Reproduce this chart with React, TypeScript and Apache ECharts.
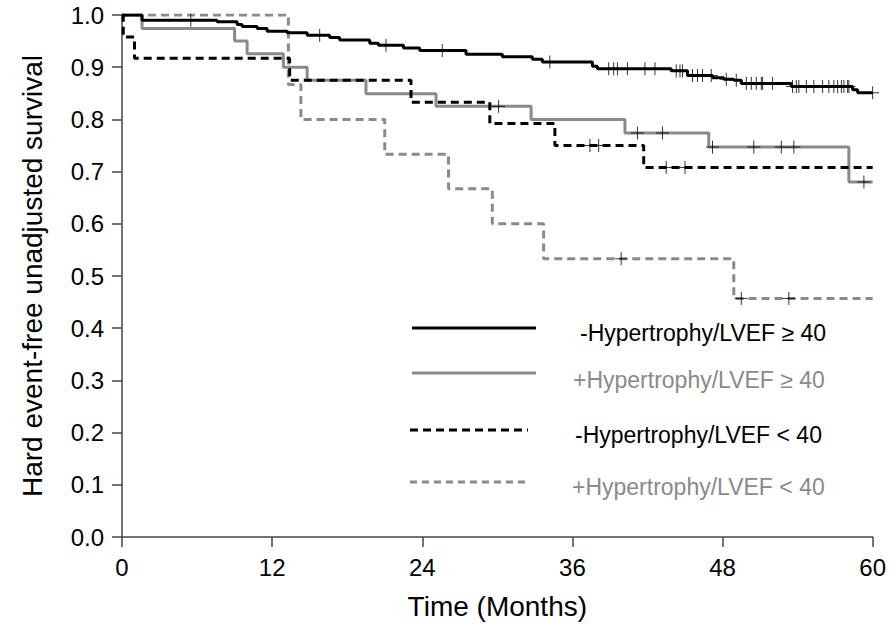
import React, { useEffect, useRef } from "react";
import * as echarts from "echarts";

// -Hypertrophy / LVEF >= 40 (black solid)
const aTimes = [0, 1.6, 7.6, 9.2, 9.6, 10.8, 11.6, 13.2, 14.8, 16.6, 17.4, 19.8, 20.5, 22.5, 23.8, 27.5, 30.4, 32.8, 33.6, 37.6, 38.0, 43.9, 45.2, 47.2, 48.1, 48.9, 49.5, 53.5, 58.4, 58.8, 60];
const aSurv = [1.0, 0.99, 0.987, 0.982, 0.978, 0.974, 0.969, 0.966, 0.961, 0.957, 0.952, 0.946, 0.942, 0.937, 0.932, 0.925, 0.92, 0.915, 0.91, 0.902, 0.897, 0.893, 0.884, 0.88, 0.877, 0.875, 0.869, 0.863, 0.857, 0.851, 0.851];
const aCensor = [5.5, 15.8, 21.1, 25.6, 34.2, 38.9, 39.3, 39.6, 40.4, 41.8, 42.6, 44.3, 44.6, 44.8, 45.6, 46.0, 46.4, 47.1, 48.3, 49.1, 49.9, 50.3, 50.7, 51.1, 51.2, 52.0, 53.6, 53.9, 54.1, 54.7, 55.3, 56.0, 56.5, 56.9, 57.2, 57.5, 57.7, 58.0, 58.1, 60.0];

// +Hypertrophy / LVEF >= 40 (gray solid)
const bTimes = [0, 1.6, 9.0, 10.0, 12.9, 14.8, 19.5, 25.1, 32.7, 40.2, 46.9, 58.1, 60];
const bSurv = [1.0, 0.974, 0.95, 0.926, 0.9, 0.875, 0.849, 0.825, 0.8, 0.774, 0.747, 0.68, 0.68];
const bCensor = [30.1, 41.2, 43.2, 47.2, 50.5, 52.7, 53.7, 59.3];

// -Hypertrophy / LVEF < 40 (black dashed)
const cTimes = [0, 0.1, 1.0, 13.4, 23.1, 29.4, 34.6, 41.7, 60];
const cSurv = [1.0, 0.958, 0.917, 0.875, 0.833, 0.792, 0.75, 0.708, 0.708];
const cCensor = [37.4, 38.1, 43.5, 45.0];

// +Hypertrophy / LVEF < 40 (gray dashed)
const dTimes = [0, 13.3, 14.3, 21.0, 26.1, 29.6, 33.7, 48.9, 60];
const dSurv = [1.0, 0.867, 0.8, 0.733, 0.667, 0.6, 0.533, 0.457, 0.457];
const dCensor = [39.9, 49.5, 53.3];

const legendNames = [
  "-Hypertrophy/LVEF \u2265 40",
  "+Hypertrophy/LVEF \u2265 40",
  "-Hypertrophy/LVEF < 40",
  "+Hypertrophy/LVEF < 40",
];

const xTicks = [0, 12, 24, 36, 48, 60];

const BLACK = "#000000";
const GRAY = "#8a8a8a";
const FONT = "Liberation Sans, Arial, sans-serif";
const NARROW = "'Liberation Sans Narrow', 'Arial Narrow', 'Liberation Sans', sans-serif";

function survAt(times: number[], surv: number[], t: number): number {
  let v = surv[0];
  for (let i = 0; i < times.length; i++) {
    if (times[i] <= t) v = surv[i];
  }
  return v;
}

function pairs(times: number[], surv: number[]) {
  return times.map((t, i) => [t, surv[i]]);
}

function censorPts(times: number[], surv: number[], cens: number[]) {
  return cens.map((t) => [t, survAt(times, surv, t)]);
}

const CROSS = "path://M6,0L6,12M0,6L12,6";

export default function App() {
  const ref = useRef<HTMLDivElement>(null);
  useEffect(() => {
    document.body.style.margin = "0";
    const chart = echarts.init(ref.current!, null, { renderer: "svg" });
    const lineSeries = (name: string, data: number[][], color: string, dashed: boolean) => ({
      type: "line",
      name,
      step: "end",
      data,
      symbol: "none",
      lineStyle: { color, width: 3, type: dashed ? [8, 5] : "solid" },
      z: 2,
    });
    const censorSeries = (data: number[][]) => ({
      type: "scatter",
      data,
      symbol: CROSS,
      symbolSize: 13,
      itemStyle: { color: "rgba(0,0,0,0)", borderColor: "#000", borderWidth: 1 },
      z: 5,
    });
    const legendX1 = 412;
    const legendX2 = 536;
    const legendRows = [
      { y: 328, ty: 333, tx: 580, color: BLACK, dash: null as null | number[] },
      { y: 373, ty: 380, tx: 573, color: GRAY, dash: null },
      { y: 430, ty: 435, tx: 575, color: BLACK, dash: [8, 5] },
      { y: 482, ty: 487, tx: 572, color: GRAY, dash: [7, 5] },
    ];
    const graphic: any[] = [];
    legendRows.forEach((r, i) => {
      graphic.push({
        type: "line",
        shape: { x1: i >= 2 ? legendX1 - 2 : legendX1, y1: r.y, x2: r.dash ? legendX2 - 8 : legendX2, y2: r.y },
        style: { stroke: r.color, lineWidth: 3, lineDash: r.dash || undefined },
      });
      graphic.push({
        type: "text",
        x: r.tx,
        y: r.ty,
        style: {
          text: legendNames[i],
          fill: r.color,
          font: `23px ${FONT}`,
          textVerticalAlign: "middle",
        },
      });
    });
    chart.setOption({
      animation: false,
      grid: { left: 122, right: 16, top: 15, bottom: 89 },
      xAxis: {
        type: "value",
        min: 0,
        max: 60,
        interval: 12,
        name: "Time (Months)",
        nameLocation: "middle",
        nameGap: 55,
        nameTextStyle: { fontFamily: FONT, fontSize: 28, color: "#000" },
        axisLine: { lineStyle: { color: "#444", width: 1.5 } },
        axisTick: { length: 10, lineStyle: { color: "#444", width: 1.5 } },
        axisLabel: {
          fontFamily: NARROW,
          fontSize: 24,
          color: "#000",
          margin: 18,
          formatter: (v: number) => (xTicks.includes(v) ? String(v) : ""),
        },
        splitLine: { show: false },
      },
      yAxis: {
        type: "value",
        min: 0,
        max: 1,
        interval: 0.1,
        name: "Hard event-free unadjusted survival",
        nameLocation: "middle",
        nameGap: 76,
        nameTextStyle: { fontFamily: FONT, fontSize: 28, color: "#000" },
        axisLine: { show: true, lineStyle: { color: "#444", width: 1.5 } },
        axisTick: { show: true, length: 10, lineStyle: { color: "#444", width: 1.5 } },
        axisLabel: {
          fontFamily: NARROW,
          fontSize: 24,
          color: "#000",
          margin: 18,
          formatter: (v: number) => v.toFixed(1),
        },
        splitLine: { show: false },
      },
      series: [
        lineSeries(legendNames[3], pairs(dTimes, dSurv), GRAY, true),
        lineSeries(legendNames[1], pairs(bTimes, bSurv), GRAY, false),
        lineSeries(legendNames[2], pairs(cTimes, cSurv), BLACK, true),
        lineSeries(legendNames[0], pairs(aTimes, aSurv), BLACK, false),
        censorSeries(censorPts(aTimes, aSurv, aCensor)),
        censorSeries(censorPts(bTimes, bSurv, bCensor)),
        censorSeries(censorPts(cTimes, cSurv, cCensor)),
        censorSeries(censorPts(dTimes, dSurv, dCensor)),
      ],
      graphic,
    });
    return () => chart.dispose();
  }, []);
  return (
    <div
      ref={ref}
      style={{ position: "absolute", left: 0, top: 0, width: 889, height: 626, background: "#fff" }}
    />
  );
}
